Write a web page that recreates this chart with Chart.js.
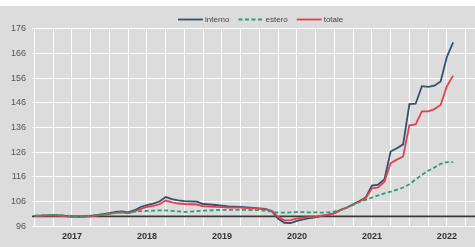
<!DOCTYPE html>
<html>
<head>
<meta charset="utf-8">
<script src="https://cdn.jsdelivr.net/npm/chart.js@4.4.0/dist/chart.umd.min.js"></script>
<style>
  html, body { margin: 0; padding: 0; background: #ffffff; }
  #wrap { position: absolute; left: 0; top: 6px; width: 475px; height: 241px; background: #dcdcdc; }
</style>
</head>
<body>
<div id="wrap"><canvas id="ppiChart"></canvas></div>
<script>
// monthly index values, Jan 2017 -> Aug 2022
const interno = [
    100.2, 100.3, 100.4, 100.5, 100.4, 100.2, 100.0, 99.9, 100.0, 100.2, 100.5, 100.9,
    101.3, 101.8, 102.0, 101.6, 102.5, 103.8, 104.6, 105.2, 106.0, 107.8, 107.0, 106.5,
    106.2, 106.1, 106.0, 105.0, 104.8, 104.6, 104.3, 104.0, 103.9, 103.8, 103.6, 103.4,
    103.2, 103.0, 102.0, 99.0, 97.4, 97.3, 98.2, 98.8, 99.3, 99.6, 100.2, 100.6,
    101.3, 102.6, 103.6, 104.9, 106.2, 107.6, 112.5, 112.9, 115.0, 126.3, 127.6, 129.2,
    145.5, 145.7, 152.8, 152.5, 153.0, 154.7, 164.7, 170.6
];
const estero = [
    100.3, 100.4, 100.5, 100.6, 100.5, 100.3, 100.1, 100.0, 100.1, 100.3, 100.6, 100.9,
    101.2, 101.5, 101.6, 101.5, 101.8, 102.1, 102.2, 102.3, 102.4, 102.4, 102.2, 102.0,
    101.8, 101.9, 102.1, 102.3, 102.4, 102.5, 102.6, 102.6, 102.6, 102.6, 102.6, 102.5,
    102.5, 102.3, 101.9, 101.5, 101.5, 101.6, 101.7, 101.7, 101.6, 101.6, 101.5, 101.6,
    102.0, 102.6, 103.6, 104.6, 105.8, 106.7, 107.6, 108.5, 109.3, 110.0, 110.8, 111.7,
    113.0, 115.0, 116.8, 118.5, 119.8, 121.3, 122.0, 122.0
];
const totale = [
    100.1, 100.2, 100.3, 100.3, 100.2, 100.0, 99.8, 99.7, 99.8, 100.0, 100.3, 100.6,
    101.0, 101.4, 101.6, 101.2, 102.0, 103.0, 103.8, 104.2, 104.9, 106.4, 105.7, 105.2,
    105.0, 104.9, 104.8, 104.1, 104.0, 103.8, 103.7, 103.5, 103.6, 103.5, 103.3, 103.2,
    103.0, 102.8, 102.2, 99.8, 98.4, 98.5, 99.2, 99.5, 99.7, 99.8, 100.3, 100.7,
    101.2, 102.5, 103.5, 104.8, 106.0, 107.3, 111.3, 111.7, 114.0, 121.6, 123.0, 124.3,
    136.9, 137.3, 142.6, 142.6, 143.5, 145.2, 152.8, 157.1
];
const yearLabels = ['2017', '2018', '2019', '2020', '2021', '2022'];
const yTicks = [96, 106, 116, 126, 136, 146, 156, 166, 176];
const baseValue = 100;

const toPoints = arr => arr.map((v, i) => ({x: i, y: v}));

// black reference line at 100, under the series
const baseLine = {
    id: 'baseLine',
    beforeDatasetsDraw(chart) {
        const {ctx, chartArea, scales} = chart;
        const y = scales.y.getPixelForValue(baseValue);
        ctx.save();
        ctx.strokeStyle = '#3a3a3a';
        ctx.lineWidth = 1.6;
        ctx.beginPath();
        ctx.moveTo(chartArea.left, y);
        ctx.lineTo(chartArea.right, y);
        ctx.stroke();
        ctx.restore();
    }
};

// legend drawn by hand so it sits where the original one is
const lineLegend = {
    id: 'lineLegend',
    afterDraw(chart) {
        const ctx = chart.ctx;
        let x = 178;
        const y = 13.5;
        ctx.save();
        ctx.font = "8px 'Liberation Sans Narrow', 'Liberation Sans', sans-serif";
        ctx.textBaseline = 'middle';
        [0, 1, 2].forEach(idx => {
            const ds = chart.data.datasets[idx];
            ctx.strokeStyle = ds.borderColor;
            ctx.lineWidth = ds.borderWidth;
            ctx.setLineDash(ds.borderDash || []);
            ctx.beginPath();
            ctx.moveTo(x, y);
            ctx.lineTo(x + 25, y);
            ctx.stroke();
            ctx.setLineDash([]);
            ctx.fillStyle = '#444444';
            ctx.fillText(ds.label, x + 27, y);
            x += 27 + ctx.measureText(ds.label).width + 9;
        });
        ctx.restore();
    }
};

const ctx = document.getElementById('ppiChart').getContext('2d');
const ppiChart = new Chart(ctx, {
    type: 'line',
    data: {
        datasets: [{
            label: 'interno',
            data: toPoints(interno),
            borderColor: '#33506f',
            borderWidth: 1.8,
            order: 3
        }, {
            label: 'estero',
            data: toPoints(estero),
            borderColor: '#2b9c78',
            borderWidth: 1.8,
            borderDash: [4, 2.5],
            order: 1
        }, {
            label: 'totale',
            data: toPoints(totale),
            borderColor: '#e0434f',
            borderWidth: 1.8,
            order: 2
        }]
    },
    options: {
        responsive: true,
        maintainAspectRatio: false,
        animation: false,
        elements: { point: { radius: 0 }, line: { tension: 0 } },
        layout: { padding: { top: 23, bottom: 0, left: 0, right: 0 } },
        plugins: {
            legend: { display: false },
            tooltip: { enabled: false }
        },
        scales: {
            x: {
                type: 'linear',
                min: -0.4,
                max: 70.5,
                border: { display: false },
                grid: { color: '#ffffff', lineWidth: 1, drawTicks: false },
                ticks: {
                    stepSize: 3,
                    includeBounds: false,
                    autoSkip: false,
                    maxRotation: 0,
                    padding: 5,
                    color: '#333333',
                    font: { family: "'Liberation Sans Narrow', 'Liberation Sans', sans-serif", size: 9, weight: 'bold' },
                    callback: v => ((v - 6) % 12 === 0 ? (yearLabels[(v - 6) / 12] || '') : '')
                }
            },
            y: {
                min: 96,
                max: 176,
                border: { display: false },
                grid: { color: '#ffffff', lineWidth: 1.1, drawTicks: false },
                afterBuildTicks: scale => { scale.ticks = yTicks.map(v => ({value: v})); },
                afterFit: scale => { scale.width = 32; },
                ticks: {
                    padding: 6,
                    color: '#555555',
                    font: { family: "'Liberation Sans Narrow', 'Liberation Sans', sans-serif", size: 9 }
                }
            }
        }
    },
    plugins: [baseLine, lineLegend]
});
</script>
</body>
</html>
